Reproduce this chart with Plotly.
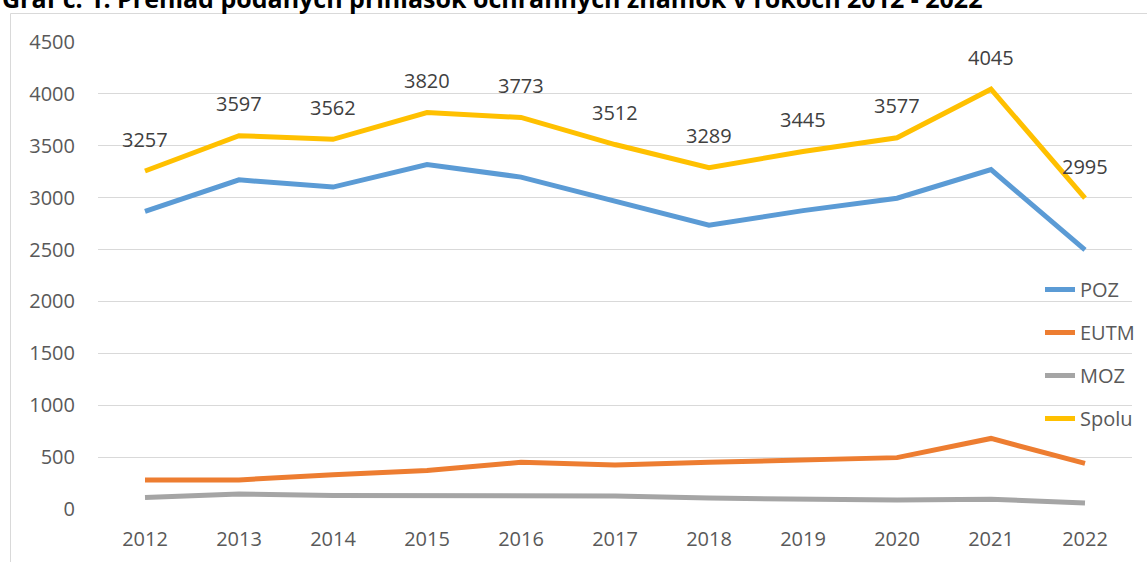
import plotly.graph_objects as go

years = ["2012", "2013", "2014", "2015", "2016", "2017", "2018", "2019", "2020", "2021", "2022"]
poz = [2867, 3172, 3102, 3320, 3198, 2962, 2734, 2875, 2995, 3270, 2497]
eutm = [280, 280, 330, 370, 450, 425, 450, 470, 495, 680, 440]
moz = [110, 145, 130, 130, 125, 125, 105, 100, 87, 95, 58]
spolu = [3257, 3597, 3562, 3820, 3773, 3512, 3289, 3445, 3577, 4045, 2995]

series = [("POZ", poz, "#5B9BD5"), ("EUTM", eutm, "#ED7D31"), ("MOZ", moz, "#A5A5A5"), ("Spolu", spolu, "#FFC000")]

FONT = "Open Sans"
W, H = 1147, 562
L, R, T, B = 98, 15, 42, 53
pw, ph = W - L - R, H - T - B

fig = go.Figure()
for i, (name, vals, col) in enumerate(series):
    fig.add_trace(go.Scatter(x=years, y=vals, name=name, mode="lines",
                             line=dict(color=col, width=5), legendgroup=str(i)))

annotations = []
for i, v in enumerate(spolu):
    annotations.append(dict(x=i, y=v, xref="x", yref="y", text=str(v), showarrow=False, yshift=32,
                            font=dict(family=FONT, size=20, color="#404040")))

annotations.append(dict(xref="paper", yref="paper", x=-L / pw, y=1, xanchor="left", yanchor="middle",
                        yshift=T + 2, showarrow=False,
                        text="<b>Graf č. 1: Prehľad podaných prihlášok ochranných známok v rokoch 2012 - 2022</b>",
                        font=dict(family=FONT, size=25, color="#000000")))

fig.update_layout(
    width=W, height=H,
    margin=dict(l=L, r=R, t=T, b=B, autoexpand=False),
    paper_bgcolor="white", plot_bgcolor="white",
    font=dict(family=FONT, size=20, color="#595959"),
    annotations=annotations,
    showlegend=True,
    legend=dict(x=(1040 - L) / pw, xanchor="left", y=1 - (270 - T) / ph, yanchor="top",
                bgcolor="rgba(0,0,0,0)", tracegroupgap=14,
                font=dict(family=FONT, size=20, color="#595959")),
    shapes=[dict(type="rect", xref="paper", yref="paper",
                 x0=(10.5 - L) / pw, x1=(1200 - L) / pw,
                 y0=-(620 - T - ph) / ph, y1=1 + (T - 13.5) / ph,
                 line=dict(color="#d9d9d9", width=1), layer="below")],
)
fig.update_xaxes(type="category", range=[-0.5, 10.5], showgrid=False, zeroline=False,
                 showline=False, ticks="", ticklabelstandoff=16, automargin=False,
                 tickfont=dict(family=FONT, size=20, color="#595959"))
fig.update_yaxes(range=[0, 4500], dtick=500, showgrid=True, gridcolor="#d9d9d9", gridwidth=1,
                 zeroline=False, showline=False, ticks="", ticklabelstandoff=22, automargin=False,
                 tickfont=dict(family=FONT, size=20, color="#595959"))

fig.write_html("out.html", config={"displayModeBar": False},
               post_script="document.body.style.margin='0';")
